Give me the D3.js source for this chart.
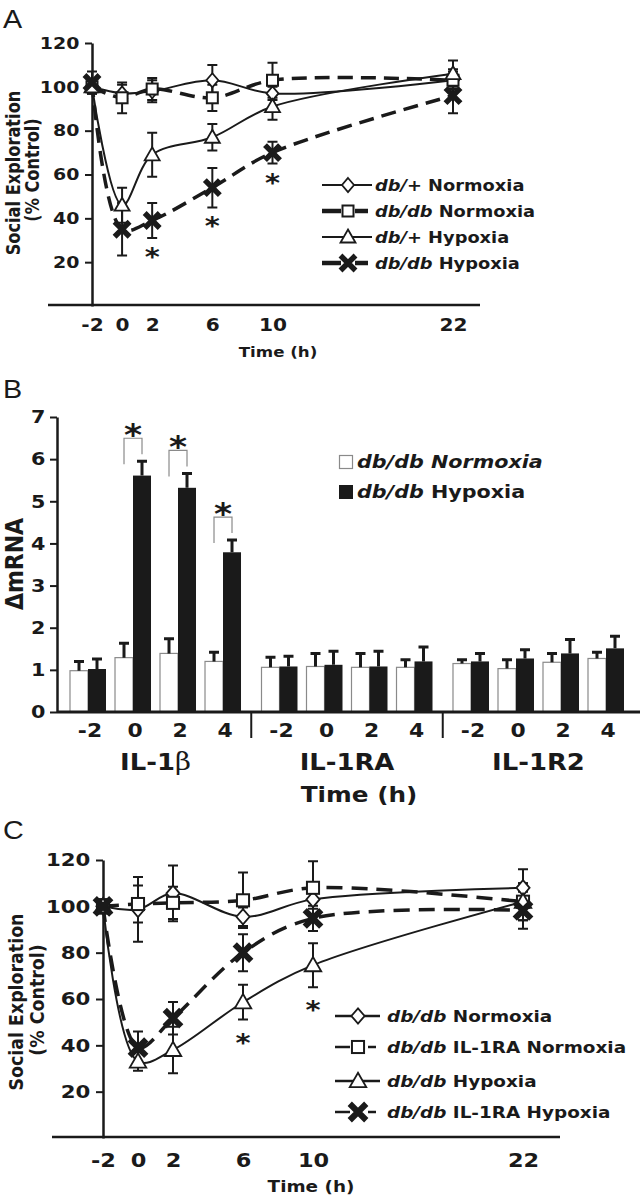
<!DOCTYPE html>
<html><head><meta charset="utf-8">
<script src="https://cdn.jsdelivr.net/npm/d3@7"></script>
<style>body{margin:0;background:#fff}svg{display:block}</style>
</head><body>
<script>
// ================= DATA =================
// Panel A : social exploration (% control) vs time (h)
const timesA = [-2, 0, 2, 6, 10, 22];
const xTicksA = [-2, 0, 2, 6, 10, 22];
const yTicksA = [20, 40, 60, 80, 100, 120];
const aDbPlusNorm    = [100, 97, 98, 103, 97, 103];
const aDbPlusNormErr = [3, 4, 5, 7, 3, 5];
const aDbDbNorm      = [100, 95, 99, 95, 103, 103];
const aDbDbNormErr   = [3, 7, 5, 6, 8, 4];
const aDbPlusHyp     = [100, 46, 69, 77, 91, 106];
const aDbPlusHypErr  = [3, 8, 10, 6, 6, 6];
const aDbDbHyp       = [102, 35, 39, 54, 70, 96];
const aDbDbHypErr    = [5, 12, 8, 9, 5, 8];
const aStarTimes     = [2, 6, 10];           // significance under db/db Hypoxia
const legendA = [
  [["db/+", true], [" Normoxia", false]],
  [["db/db", true], [" Normoxia", false]],
  [["db/+", true], [" Hypoxia", false]],
  [["db/db", true], [" Hypoxia", false]]
];

// Panel B : ΔmRNA bars
const genesB = ["IL-1β", "IL-1RA", "IL-1R2"];
const timesB = ["-2", "0", "2", "4"];
const yTicksB = [0, 1, 2, 3, 4, 5, 6, 7];
const bNorm    = [[0.98, 1.29, 1.39, 1.20], [1.06, 1.08, 1.06, 1.06], [1.15, 1.03, 1.18, 1.27]];
const bNormErr = [[0.22, 0.34, 0.35, 0.22], [0.24, 0.31, 0.33, 0.18], [0.09, 0.21, 0.21, 0.15]];
const bHyp     = [[1.02, 5.61, 5.32, 3.79], [1.08, 1.12, 1.08, 1.20], [1.20, 1.27, 1.39, 1.51]];
const bHypErr  = [[0.24, 0.34, 0.34, 0.29], [0.24, 0.32, 0.36, 0.34], [0.19, 0.21, 0.33, 0.29]];
const bSig     = [[false, true, true, true], [false, false, false, false], [false, false, false, false]];

// Panel C : social exploration with IL-1RA
const timesC = [-2, 0, 2, 6, 10, 22];
const xTicksC = [-2, 0, 2, 6, 10, 22];
const yTicksC = [20, 40, 60, 80, 100, 120];
const cNorm      = [100, 98.7, 105.6, 95.5, 103, 108];
const cNormErr   = [3, 14, 12, 4, 4, 8];
const cRaNorm    = [100, 101, 101.5, 102.6, 108, 102];
const cRaNormErr = [3, 8, 7, 12, 11.5, 8];
const cHyp       = [100, 33, 38, 58.6, 74.6, 102];
const cHypErr    = [3, 4, 10, 7.5, 9.5, 8];
const cRaHyp     = [100, 39, 51.7, 80, 94.8, 98.3];
const cRaHypErr  = [3, 7, 7, 8, 5.5, 8];
const cStarTimes = [6, 10];                 // significance under db/db Hypoxia
const legendC = [
  [["db/db", true], [" Normoxia", false]],
  [["db/db", true], [" IL-1RA Normoxia", false]],
  [["db/db", true], [" Hypoxia", false]],
  [["db/db", true], [" IL-1RA Hypoxia", false]]
];

// ================= DRAWING =================
const W = 640, H = 1199, SX = 1.15, FONT = "DejaVu Sans";
const svg = d3.select("body").append("svg").attr("width", W).attr("height", H);

function txt(g, x, y, size, anchor, parts, opt = {}) {
  const t = g.append("text")
    .attr("transform", opt.rot ? `translate(${x},${y}) rotate(-90) scale(1,${SX})` : `translate(${x},${y}) scale(${SX},1)`)
    .attr("font-family", opt.family || FONT).attr("font-size", size)
    .attr("font-weight", opt.weight || "bold").attr("text-anchor", anchor).attr("fill", "#1a1a1a");
  if (typeof parts === "string") t.text(parts);
  else parts.forEach(p => {
    const s = t.append("tspan").text(p[0]);
    if (p[1]) s.attr("font-style", "italic");
    if (p[2]) s.attr("font-family", p[2]);
    if (p[3]) s.attr("font-weight", p[3]);
    if (p[4]) s.attr("font-size", p[4]);
  });
  return t;
}

function marker(g, type, x, y, k) {
  const s = k || 1;
  if (type === "diamond") {
    g.append("path").attr("d", `M${x},${y - 7 * s}L${x + 6 * s},${y}L${x},${y + 7 * s}L${x - 6 * s},${y}Z`)
      .attr("fill", "#fff").attr("stroke", "#1a1a1a").attr("stroke-width", 1.8);
  } else if (type === "square") {
    g.append("rect").attr("x", x - 5.5 * s).attr("y", y - 5.5 * s).attr("width", 11 * s).attr("height", 11 * s)
      .attr("fill", "#fff").attr("stroke", "#1a1a1a").attr("stroke-width", 2);
  } else if (type === "triangle") {
    g.append("path").attr("d", `M${x},${y - 7.5 * s}L${x + 7.5 * s},${y + 5.5 * s}L${x - 7.5 * s},${y + 5.5 * s}Z`)
      .attr("fill", "#fff").attr("stroke", "#1a1a1a").attr("stroke-width", 1.8);
  } else if (type === "cross") {
    const r = 7.5 * s;
    g.append("path").attr("d", `M${x - r},${y - r}L${x + r},${y + r}M${x - r},${y + r}L${x + r},${y - r}`)
      .attr("stroke", "#1a1a1a").attr("stroke-width", 5.5 * s).attr("fill", "none");
  }
}

function linePanel(o) {
  const g = svg.append("g");
  const x = d3.scaleLinear().domain([-2, 22]).range(o.xr);
  const y = d3.scaleLinear().domain([0, 120]).range(o.yr);
  // x baseline
  g.append("line").attr("x1", o.axisX[0]).attr("x2", o.axisX[1]).attr("y1", o.yr[0] - 1).attr("y2", o.yr[0] - 1)
    .attr("stroke", "#1a1a1a").attr("stroke-width", 2.5);
  // y axis
  const ya = g.append("g").attr("transform", `translate(${o.xr[0]},0)`)
    .call(d3.axisLeft(y).tickValues(o.yTicks).tickSize(7).tickSizeOuter(0).tickPadding(4));
  ya.select(".domain").attr("stroke", "#1a1a1a").attr("stroke-width", 2.5);
  ya.selectAll(".tick line").attr("stroke", "#1a1a1a").attr("stroke-width", 2);
  ya.selectAll(".tick text").attr("font-family", FONT).attr("font-weight", "bold").attr("font-size", o.yFs)
    .attr("fill", "#1a1a1a").attr("transform", `scale(${SX},1)`);
  // x tick labels
  const xa = g.append("g").attr("transform", `translate(0,${o.yr[0]})`)
    .call(d3.axisBottom(x).tickValues(o.xTicks).tickSize(0).tickFormat(d => String(d)));
  xa.select(".domain").remove();
  xa.selectAll(".tick text").attr("font-family", FONT).attr("font-weight", "bold").attr("font-size", o.xFs)
    .attr("fill", "#1a1a1a").attr("y", o.xLabDy).attr("dy", null).attr("transform", `scale(${SX},1)`);
  // axis titles
  txt(g, o.tTitle[0], o.tTitle[1], o.tFs, "middle", "Time (h)");
  txt(g, o.yTitle1[0], o.yTitle1[1], o.yTitleFs, "middle", "Social Exploration", { rot: true });
  txt(g, o.yTitle2[0], o.yTitle2[1], o.yTitleFs, "middle", "(% Control)", { rot: true });

  const curve = d3.line().x(d => x(d[0])).y(d => y(d[1])).curve(d3.curveCatmullRom.alpha(0.5));
  o.series.forEach(s => {
    const pts = o.times.map((t, i) => [t, s.v[i]]);
    g.append("path").attr("d", curve(pts)).attr("fill", "none").attr("stroke", "#1a1a1a")
      .attr("stroke-width", s.dash ? 3.5 : 2).attr("stroke-dasharray", s.dash ? o.dash : null);
  });
  o.series.forEach(s => {
    o.times.forEach((t, i) => {
      const cx = x(t), y1 = y(s.v[i] + s.e[i]), y2 = y(s.v[i] - s.e[i]);
      g.append("path").attr("d", `M${cx},${y1}V${y2}M${cx - 5},${y1}H${cx + 5}M${cx - 5},${y2}H${cx + 5}`)
        .attr("stroke", "#1a1a1a").attr("stroke-width", 2).attr("fill", "none");
    });
  });
  o.series.forEach(s => o.times.forEach((t, i) => marker(g, s.m, x(t), y(s.v[i]), o.mk)));
  // stars
  const ss = o.series[o.starIdx];
  o.stars.forEach(t => {
    const i = o.times.indexOf(t);
    txt(g, x(t), y(ss.v[i] - ss.e[i]) + o.starOff, 25, "middle", "*");
  });
  // legend
  o.legend.forEach((parts, i) => {
    const ly = o.leg.rows[i], s = o.series[i], L = o.leg;
    if (s.dash) {
      g.append("line").attr("x1", L.x0).attr("x2", L.lx1).attr("y1", ly).attr("y2", ly)
        .attr("stroke", "#1a1a1a").attr("stroke-width", L.thick);
      g.append("line").attr("x1", L.rx0).attr("x2", L.rx1).attr("y1", ly).attr("y2", ly)
        .attr("stroke", "#1a1a1a").attr("stroke-width", L.thick);
    } else {
      g.append("line").attr("x1", L.x0).attr("x2", L.x1).attr("y1", ly).attr("y2", ly)
        .attr("stroke", "#1a1a1a").attr("stroke-width", L.thin);
    }
    marker(g, s.m, L.mx, ly, o.mk);
    txt(g, L.tx, ly + L.base, L.fs, "start", parts);
  });
}

// ---------- Panel A ----------
txt(svg, 3, 28, 25, "start", "A", { family: "Liberation Sans", weight: "normal" });
linePanel({
  xr: [92, 453], yr: [306, 43], axisX: [48, 480], yTicks: yTicksA, xTicks: xTicksA, times: timesA,
  yFs: 16.5, xFs: 17.5, xLabDy: 25, tFs: 14.5, tTitle: [278, 357],
  yTitle1: [20, 173], yTitle2: [39, 170], yTitleFs: 16.2, dash: "15,8", mk: 1,
  series: [
    { v: aDbPlusNorm, e: aDbPlusNormErr, m: "diamond", dash: false },
    { v: aDbDbNorm, e: aDbDbNormErr, m: "square", dash: true },
    { v: aDbPlusHyp, e: aDbPlusHypErr, m: "triangle", dash: false },
    { v: aDbDbHyp, e: aDbDbHypErr, m: "cross", dash: true }
  ],
  stars: aStarTimes, starIdx: 3, starOff: 27, legend: legendA,
  leg: { rows: [185, 211, 237, 263], x0: 322, x1: 372, lx1: 341, rx0: 355, rx1: 368, mx: 348, tx: 375,
         base: 5.5, fs: 15.5, thin: 2.2, thick: 4.5 }
});

// ---------- Panel B ----------
(function () {
  const g = svg.append("g");
  txt(g, 3, 398, 25, "start", "B", { family: "Liberation Sans", weight: "normal" });
  const y = d3.scaleLinear().domain([0, 7]).range([712, 417]);
  const gx = d3.scaleBand().domain(genesB).range([65.5, 628.5]).paddingInner(0.06).paddingOuter(0);
  const tx = d3.scaleBand().domain(timesB).range([0, gx.bandwidth()]).padding(0);
  const bw = 18;
  const ya = g.append("g").attr("transform", "translate(57,0)")
    .call(d3.axisLeft(y).tickValues(yTicksB).tickSize(7).tickSizeOuter(0).tickPadding(3).tickFormat(d => String(d)));
  ya.select(".domain").attr("stroke", "#1a1a1a").attr("stroke-width", 2.5);
  ya.selectAll(".tick line").attr("stroke", "#1a1a1a").attr("stroke-width", 2);
  ya.selectAll(".tick text").attr("font-family", FONT).attr("font-weight", "bold").attr("font-size", 18)
    .attr("fill", "#1a1a1a").attr("transform", `scale(${SX},1)`);

  genesB.forEach((gene, gi) => {
    timesB.forEach((t, ti) => {
      const c = gx(gene) + tx(t) + tx.bandwidth() / 2;
      const vn = bNorm[gi][ti], vh = bHyp[gi][ti];
      g.append("rect").attr("x", c - bw).attr("y", y(vn)).attr("width", bw).attr("height", y(0) - y(vn))
        .attr("fill", "#fff").attr("stroke", "#8a8a8a").attr("stroke-width", 1.2);
      g.append("rect").attr("x", c).attr("y", y(vh)).attr("width", bw).attr("height", y(0) - y(vh))
        .attr("fill", "#1a1a1a");
      [[c - bw / 2, vn, bNormErr[gi][ti]], [c + bw / 2, vh, bHypErr[gi][ti]]].forEach(([cx, v, e]) => {
        g.append("path").attr("d", `M${cx},${y(v)}V${y(v + e)}M${cx - 5},${y(v + e)}H${cx + 5}`)
          .attr("stroke", "#1a1a1a").attr("stroke-width", 3).attr("fill", "none");
      });
      if (bSig[gi][ti]) {
        const et = y(vh + bHypErr[gi][ti]), top = et - 23;
        g.append("path").attr("d", `M${c - bw / 2},${et + 3}V${top}H${c + bw / 2}V${et - 7}`)
          .attr("stroke", "#8a8a8a").attr("stroke-width", 1.2).attr("fill", "none");
        txt(g, c, top + 7, 30, "middle", "*");
      }
      txt(g, c + 2, 737, 19, "middle", t);
    });
    const gc = gx(gene) + gx.bandwidth() / 2;
    if (gene === "IL-1β") txt(g, gc, 770, 22.5, "middle", [["IL-1", false], ["β", false, "DejaVu Serif", "normal", 24]]);
    else txt(g, gc, 770, 22.5, "middle", gene);
  });
  // separators between genes
  for (let i = 1; i < genesB.length; i++) {
    const sx = (gx(genesB[i - 1]) + gx.bandwidth() + gx(genesB[i])) / 2;
    g.append("line").attr("x1", sx).attr("x2", sx).attr("y1", 712).attr("y2", 738)
      .attr("stroke", "#1a1a1a").attr("stroke-width", 2);
  }
  // x baseline
  g.append("line").attr("x1", 57).attr("x2", 640).attr("y1", 712).attr("y2", 712)
    .attr("stroke", "#1a1a1a").attr("stroke-width", 3);
  txt(g, 359, 802, 21.5, "middle", "Time (h)");
  txt(g, 23, 564, 22, "middle", "ΔmRNA", { rot: true });
  // legend
  g.append("rect").attr("x", 339.5).attr("y", 455.5).attr("width", 13).attr("height", 13)
    .attr("fill", "#fff").attr("stroke", "#8a8a8a").attr("stroke-width", 1.2);
  g.append("rect").attr("x", 339).attr("y", 485).attr("width", 14).attr("height", 14).attr("fill", "#1a1a1a");
  txt(g, 357, 468, 18, "start", [["db/db Normoxia", true]]);
  txt(g, 357, 498, 18, "start", [["db/db", true], [" Hypoxia", false]]);
})();

// ---------- Panel C ----------
txt(svg, 3, 839, 25, "start", "C", { family: "Liberation Sans", weight: "normal" });
linePanel({
  xr: [103, 523], yr: [1138, 860], axisX: [52, 560], yTicks: yTicksC, xTicks: xTicksC, times: timesC,
  yFs: 18.5, xFs: 19.5, xLabDy: 29, tFs: 16, tTitle: [311, 1192],
  yTitle1: [23, 1002], yTitle2: [44, 1000], yTitleFs: 17.4, dash: "16,9", mk: 1.1,
  series: [
    { v: cNorm, e: cNormErr, m: "diamond", dash: false },
    { v: cRaNorm, e: cRaNormErr, m: "square", dash: true },
    { v: cHyp, e: cHypErr, m: "triangle", dash: false },
    { v: cRaHyp, e: cRaHypErr, m: "cross", dash: true }
  ],
  stars: cStarTimes, starIdx: 2, starOff: 31, legend: legendC,
  leg: { rows: [1016, 1047, 1081, 1112], x0: 335, x1: 380, lx1: 350, rx0: 368, rx1: 376, mx: 358, tx: 387,
         base: 6, fs: 16, thin: 2.5, thick: 2.5 }
});
</script>
</body></html>
